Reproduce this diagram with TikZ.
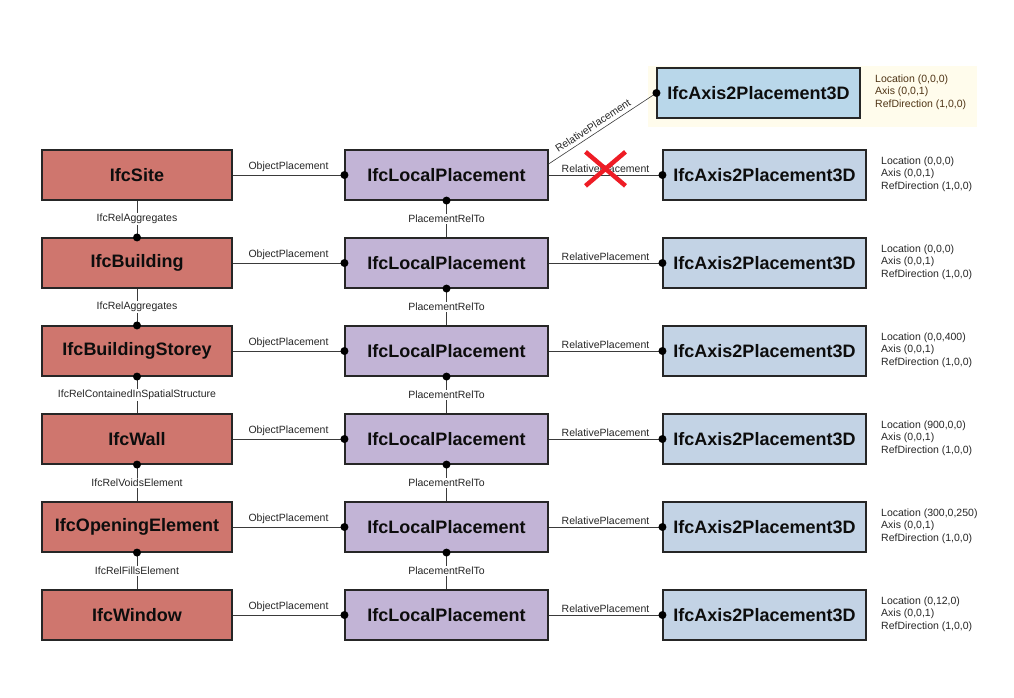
\documentclass[tikz,border=0pt]{standalone}
\usepackage{fontspec}
\setmainfont{Liberation Sans}

\definecolor{spatialred}{HTML}{CF766E}
\definecolor{placelilac}{HTML}{C2B4D6}
\definecolor{axisblue}{HTML}{C3D3E5}
\definecolor{axistop}{HTML}{B9D7EA}
\definecolor{notepaper}{HTML}{FFFCEC}
\definecolor{notebrown}{HTML}{4F3415}
\definecolor{linegray}{HTML}{3A3A3A}
\definecolor{crossred}{HTML}{EE1C25}

\tikzset{
  entity/.style={
    draw=black!85,
    line width=1.1pt,
    minimum height=50pt,
    inner sep=0pt,
    text=black!95,
    font=\fontsize{18}{20}\selectfont\bfseries
  },
  spatialbox/.style={entity, fill=spatialred, minimum width=190pt},
  localbox/.style={entity, fill=placelilac, minimum width=203pt},
  axisbox/.style={entity, fill=axisblue, minimum width=203pt},
  point/.style={
    circle,
    fill,
    inner sep=0pt,
    minimum size=8pt
  },
  link/.style={draw=linegray, line width=0.6pt},
  rolelabel/.style={
    inner sep=1.5pt,
    text=black!85,
    font=\fontsize{10.5}{12}\selectfont
  },
  notetext/.style={
    align=left,
    anchor=west,
    inner sep=0pt,
    text=black!85,
    font=\fontsize{10.5}{12.7}\selectfont
  }
}

\begin{document}
\begin{tikzpicture}[x=1pt, y=-1pt]
  \useasboundingbox (0,0) rectangle (1014,697);

  % placement that replaces the crossed one
  \fill[notepaper] (648,66) rectangle (977,127);
  \node[axisbox, fill=axistop] (ax0) at (758.5,93) {IfcAxis2Placement3D};
  \node[notetext, text=notebrown] (n0) at (875,92) {Location (0,0,0)\\Axis (0,0,1)\\RefDirection (1,0,0)};

  % spatial structure
  \node[spatialbox] (site) at (137,175) {IfcSite};
  \node[spatialbox] (bldg) at (137,263) {IfcBuilding};
  \node[spatialbox] (storey) at (137,351) {IfcBuildingStorey};
  \node[spatialbox] (wall) at (137,439) {IfcWall};
  \node[spatialbox] (opening) at (137,527) {IfcOpeningElement};
  \node[spatialbox] (window) at (137,615) {IfcWindow};

  % local placements
  \node[localbox] (lp1) at (446.5,175) {IfcLocalPlacement};
  \node[localbox] (lp2) at (446.5,263) {IfcLocalPlacement};
  \node[localbox] (lp3) at (446.5,351) {IfcLocalPlacement};
  \node[localbox] (lp4) at (446.5,439) {IfcLocalPlacement};
  \node[localbox] (lp5) at (446.5,527) {IfcLocalPlacement};
  \node[localbox] (lp6) at (446.5,615) {IfcLocalPlacement};

  % axis placements
  \node[axisbox] (ax1) at (764.5,175) {IfcAxis2Placement3D};
  \node[axisbox] (ax2) at (764.5,263) {IfcAxis2Placement3D};
  \node[axisbox] (ax3) at (764.5,351) {IfcAxis2Placement3D};
  \node[axisbox] (ax4) at (764.5,439) {IfcAxis2Placement3D};
  \node[axisbox] (ax5) at (764.5,527) {IfcAxis2Placement3D};
  \node[axisbox] (ax6) at (764.5,615) {IfcAxis2Placement3D};

  \node[notetext] (n1) at (881,174) {Location (0,0,0)\\Axis (0,0,1)\\RefDirection (1,0,0)};
  \node[notetext] (n2) at (881,262) {Location (0,0,0)\\Axis (0,0,1)\\RefDirection (1,0,0)};
  \node[notetext] (n3) at (881,350) {Location (0,0,400)\\Axis (0,0,1)\\RefDirection (1,0,0)};
  \node[notetext] (n4) at (881,438) {Location (900,0,0)\\Axis (0,0,1)\\RefDirection (1,0,0)};
  \node[notetext] (n5) at (881,526) {Location (300,0,250)\\Axis (0,0,1)\\RefDirection (1,0,0)};
  \node[notetext] (n6) at (881,614) {Location (0,12,0)\\Axis (0,0,1)\\RefDirection (1,0,0)};

  % object placements
  \draw[link] (site) -- (lp1) node[rolelabel, midway, above=2pt] {ObjectPlacement};
  \draw[link] (bldg) -- (lp2) node[rolelabel, midway, above=2pt] {ObjectPlacement};
  \draw[link] (storey) -- (lp3) node[rolelabel, midway, above=2pt] {ObjectPlacement};
  \draw[link] (wall) -- (lp4) node[rolelabel, midway, above=2pt] {ObjectPlacement};
  \draw[link] (opening) -- (lp5) node[rolelabel, midway, above=2pt] {ObjectPlacement};
  \draw[link] (window) -- (lp6) node[rolelabel, midway, above=2pt] {ObjectPlacement};
  \node[point] (op1) at (lp1.west) {};
  \node[point] (op2) at (lp2.west) {};
  \node[point] (op3) at (lp3.west) {};
  \node[point] (op4) at (lp4.west) {};
  \node[point] (op5) at (lp5.west) {};
  \node[point] (op6) at (lp6.west) {};

  % relative placements
  \draw[link] (lp1) -- (ax1) node[rolelabel, midway, above=0.5pt] (rp1) {RelativePlacement};
  \draw[link] (lp2) -- (ax2) node[rolelabel, midway, above=0.5pt] {RelativePlacement};
  \draw[link] (lp3) -- (ax3) node[rolelabel, midway, above=0.5pt] {RelativePlacement};
  \draw[link] (lp4) -- (ax4) node[rolelabel, midway, above=0.5pt] {RelativePlacement};
  \draw[link] (lp5) -- (ax5) node[rolelabel, midway, above=0.5pt] {RelativePlacement};
  \draw[link] (lp6) -- (ax6) node[rolelabel, midway, above=0.5pt] {RelativePlacement};
  \node[point] (rd1) at (ax1.west) {};
  \node[point] (rd2) at (ax2.west) {};
  \node[point] (rd3) at (ax3.west) {};
  \node[point] (rd4) at (ax4.west) {};
  \node[point] (rd5) at (ax5.west) {};
  \node[point] (rd6) at (ax6.west) {};

  \coordinate (lp1d) at ([yshift=11pt]lp1.east);
  \draw[link] (lp1d) -- (ax0.west) node[rolelabel, pos=0.45, above=2pt, sloped] {RelativePlacement};
  \node[point] (rd0) at (ax0.west) {};

  \draw[crossred, line width=4.5pt]
    ([shift={(-20,-17)}]rp1.center) -- ([shift={(20,17)}]rp1.center)
    ([shift={(-20,17)}]rp1.center) -- ([shift={(20,-17)}]rp1.center);

  % spatial relations
  \draw[link] (site) -- (bldg) node[rolelabel, midway, fill=white] {IfcRelAggregates};
  \draw[link] (bldg) -- (storey) node[rolelabel, midway, fill=white] {IfcRelAggregates};
  \draw[link] (storey) -- (wall) node[rolelabel, midway, fill=white] {IfcRelContainedInSpatialStructure};
  \draw[link] (wall) -- (opening) node[rolelabel, midway, fill=white] {IfcRelVoidsElement};
  \draw[link] (opening) -- (window) node[rolelabel, midway, fill=white] {IfcRelFillsElement};
  \node[point] (sr1) at (bldg.north) {};
  \node[point] (sr2) at (storey.north) {};
  \node[point] (sr3) at (storey.south) {};
  \node[point] (sr4) at (wall.south) {};
  \node[point] (sr5) at (opening.south) {};

  % placement chain
  \draw[link] (lp1) -- (lp2) node[rolelabel, midway, fill=white] {PlacementRelTo};
  \draw[link] (lp2) -- (lp3) node[rolelabel, midway, fill=white] {PlacementRelTo};
  \draw[link] (lp3) -- (lp4) node[rolelabel, midway, fill=white] {PlacementRelTo};
  \draw[link] (lp4) -- (lp5) node[rolelabel, midway, fill=white] {PlacementRelTo};
  \draw[link] (lp5) -- (lp6) node[rolelabel, midway, fill=white] {PlacementRelTo};
  \node[point] (pr1) at (lp1.south) {};
  \node[point] (pr2) at (lp2.south) {};
  \node[point] (pr3) at (lp3.south) {};
  \node[point] (pr4) at (lp4.south) {};
  \node[point] (pr5) at (lp5.south) {};
\end{tikzpicture}
\end{document}
